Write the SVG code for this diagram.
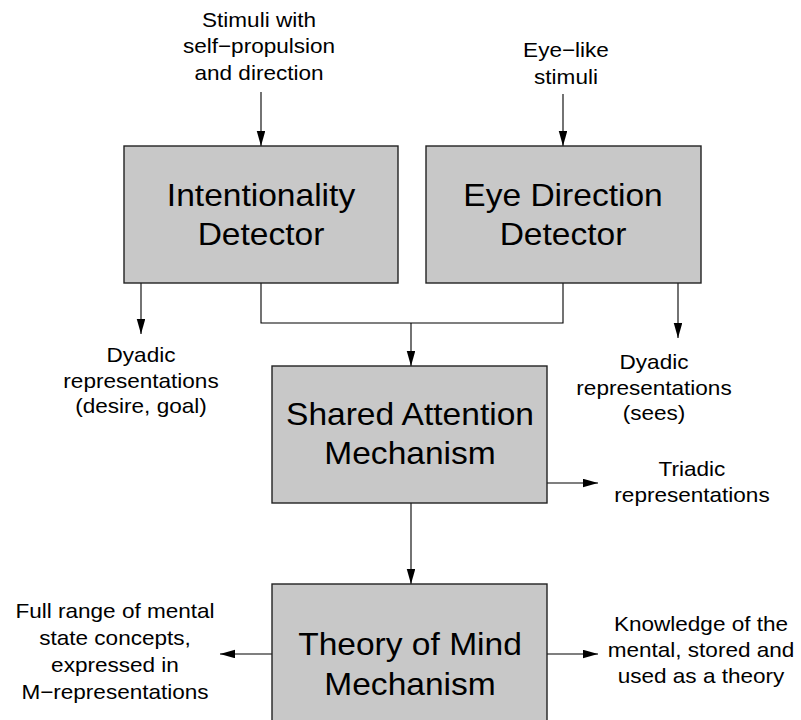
<svg xmlns="http://www.w3.org/2000/svg" width="801" height="720" viewBox="0 0 801 720">
  <style>
    .box { fill: #c8c8c8; stroke: #222; stroke-width: 1.4; }
    .big { font-family: "Liberation Sans", Arial, sans-serif; font-size: 30.5px; fill: #000; text-anchor: middle; }
    .lbl { font-family: "Liberation Sans", Arial, sans-serif; font-size: 20.5px; fill: #000; text-anchor: middle; }
    .wire { fill: none; stroke: #000; stroke-width: 1.1; }
    .arrow { fill: none; stroke: #000; stroke-width: 1.1; marker-end: url(#head); }
  </style>
  <defs>
    <marker id="head" markerUnits="userSpaceOnUse" markerWidth="16" markerHeight="10" refX="15" refY="4.25" orient="auto">
      <path d="M0,0 L15,4.25 L0,8.5 Z" fill="#000"/>
    </marker>
  </defs>

  <rect width="801" height="720" fill="#fff"/>

  <!-- connectors -->
  <g id="connectors">
    <line class="arrow" x1="261" y1="92" x2="261" y2="146"/>
    <line class="arrow" x1="563" y1="94" x2="563" y2="146"/>
    <line class="arrow" x1="141" y1="283" x2="141" y2="334"/>
    <line class="arrow" x1="678" y1="283" x2="678" y2="338"/>
    <polyline class="wire" points="261,283 261,323 563,323 563,283"/>
    <line class="arrow" x1="411" y1="323" x2="411" y2="366"/>
    <line class="arrow" x1="547" y1="483" x2="598" y2="483"/>
    <line class="arrow" x1="411" y1="503" x2="411" y2="584"/>
    <line class="arrow" x1="272" y1="654" x2="220" y2="654"/>
    <line class="arrow" x1="547" y1="654" x2="598" y2="654"/>
  </g>

  <!-- processing modules -->
  <g id="intentionality-detector">
    <rect class="box" x="124" y="146" width="274" height="137"/>
    <g transform="translate(261 0) scale(1.1 1)">
      <text class="big" x="0" y="206">Intentionality</text>
      <text class="big" x="0" y="245">Detector</text>
    </g>
  </g>

  <g id="eye-direction-detector">
    <rect class="box" x="426" y="146" width="275" height="137"/>
    <g transform="translate(563 0) scale(1.1 1)">
      <text class="big" x="0" y="206">Eye Direction</text>
      <text class="big" x="0" y="245">Detector</text>
    </g>
  </g>

  <g id="shared-attention-mechanism">
    <rect class="box" x="272" y="366" width="275" height="137"/>
    <g transform="translate(410 0) scale(1.1 1)">
      <text class="big" x="0" y="425">Shared Attention</text>
      <text class="big" x="0" y="464">Mechanism</text>
    </g>
  </g>

  <g id="theory-of-mind-mechanism">
    <rect class="box" x="272" y="584" width="275" height="150"/>
    <g transform="translate(410 0) scale(1.1 1)">
      <text class="big" x="0" y="655">Theory of Mind</text>
      <text class="big" x="0" y="695">Mechanism</text>
    </g>
  </g>

  <!-- inputs and outputs -->
  <g id="stimuli-self-propulsion" transform="translate(259 0) scale(1.1 1)">
    <text class="lbl" x="0" y="27">Stimuli with</text>
    <text class="lbl" x="0" y="53.5">self−propulsion</text>
    <text class="lbl" x="0" y="80">and direction</text>
  </g>

  <g id="eye-like-stimuli" transform="translate(566 0) scale(1.1 1)">
    <text class="lbl" x="0" y="57.5">Eye−like</text>
    <text class="lbl" x="0" y="84.5">stimuli</text>
  </g>

  <g id="dyadic-desire-goal" transform="translate(141 0) scale(1.1 1)">
    <text class="lbl" x="0" y="362">Dyadic</text>
    <text class="lbl" x="0" y="388">representations</text>
    <text class="lbl" x="0" y="413">(desire, goal)</text>
  </g>

  <g id="dyadic-sees" transform="translate(654 0) scale(1.1 1)">
    <text class="lbl" x="0" y="369">Dyadic</text>
    <text class="lbl" x="0" y="395">representations</text>
    <text class="lbl" x="0" y="420">(sees)</text>
  </g>

  <g id="triadic" transform="translate(692 0) scale(1.1 1)">
    <text class="lbl" x="0" y="476">Triadic</text>
    <text class="lbl" x="0" y="502">representations</text>
  </g>

  <g id="mental-state-concepts" transform="translate(115 0) scale(1.1 1)">
    <text class="lbl" x="0" y="618">Full range of mental</text>
    <text class="lbl" x="0" y="645">state concepts,</text>
    <text class="lbl" x="0" y="672">expressed in</text>
    <text class="lbl" x="0" y="699">M−representations</text>
  </g>

  <g id="knowledge-of-mental" transform="translate(701 0) scale(1.1 1)">
    <text class="lbl" x="0" y="631">Knowledge of the</text>
    <text class="lbl" x="0" y="657">mental, stored and</text>
    <text class="lbl" x="0" y="683">used as a theory</text>
  </g>
</svg>
